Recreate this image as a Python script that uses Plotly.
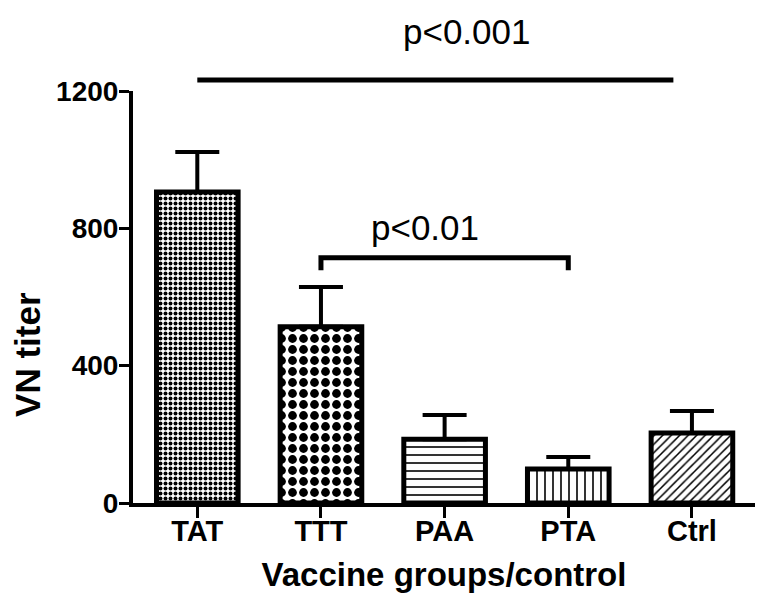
import plotly.graph_objs as go

# data
groups = ['TAT', 'TTT', 'PAA', 'PTA', 'Ctrl']
titer = [906, 513, 186, 99, 204]
titer_err = [116, 116, 70, 35, 64]
patterns = ['.', '.', '-', '|', '/']
pattern_sizes = [5, 11, 8, 8, 6]
pattern_solid = [0.5, 0.5, 0.2, 0.2, 0.25]

# significance marks: from group, to group, height, drop, label, label x, label y
sig_from = [0, 1]
sig_to = [3.85, 3]
sig_height = [1232, 714]
sig_drop = [0, 36]
sig_label = ['p<0.001', 'p<0.01']
sig_label_x = [2.18, 1.84]
sig_label_y = [1372, 801]

Y_RANGE = [0, 1200]
X_RANGE = [-0.52, 4.51]
FONT = 'Liberation Sans, Arial, sans-serif'


def to_paper(v, rng):
    return (v - rng[0]) / (rng[1] - rng[0])


bar = go.Bar(
    x=list(range(len(groups))), y=titer, width=0.66,
    marker=dict(
        color='white',
        line=dict(color='black', width=5),
        pattern=dict(shape=patterns, size=pattern_sizes, solidity=pattern_solid,
                     fgcolor='black', bgcolor='white', fillmode='replace'),
    ),
    error_y=dict(type='data', array=titer_err, arrayminus=[0] * len(titer),
                 symmetric=False, color='black', thickness=4, width=22),
)

shapes = []
annotations = []
for i in range(len(sig_label)):
    x0 = to_paper(sig_from[i], X_RANGE)
    x1 = to_paper(sig_to[i], X_RANGE)
    yt = to_paper(sig_height[i], Y_RANGE)
    yb = to_paper(sig_height[i] - sig_drop[i], Y_RANGE)
    if sig_drop[i]:
        path = 'M %f,%f L %f,%f L %f,%f L %f,%f' % (x0, yb, x0, yt, x1, yt, x1, yb)
    else:
        path = 'M %f,%f L %f,%f' % (x0, yt, x1, yt)
    shapes.append(dict(type='path', xref='paper', yref='paper', path=path,
                       line=dict(color='black', width=5)))
    annotations.append(dict(x=to_paper(sig_label_x[i], X_RANGE),
                            y=to_paper(sig_label_y[i], Y_RANGE),
                            xref='paper', yref='paper',
                            text=sig_label[i], showarrow=False,
                            font=dict(family=FONT, size=35, color='black'),
                            xanchor='center', yanchor='middle'))

# y title placed like the original (lower than plot centre)
annotations.append(dict(x=-0.170, y=0.36, xref='paper', yref='paper',
                        text='<b>VN titer</b>', textangle=-90, showarrow=False,
                        font=dict(family=FONT, size=35, color='black'),
                        xanchor='center', yanchor='middle'))

# page body has an 8px margin, so the figure is a bit smaller than the window
layout = go.Layout(
    width=757, height=602,
    margin=dict(l=125, r=10, t=83, b=107),
    paper_bgcolor='white', plot_bgcolor='white',
    showlegend=False,
    font=dict(family=FONT, color='black'),
    xaxis=dict(
        range=X_RANGE, tickvals=list(range(len(groups))), ticktext=groups,
        automargin=False,
        showline=True, linecolor='black', linewidth=4,
        ticks='outside', ticklen=11, tickwidth=3, tickcolor='black',
        ticklabelstandoff=-12,
        showgrid=False, zeroline=False,
        tickfont=dict(family=FONT, size=29, color='black', weight='bold'),
        title=dict(text='<b>Vaccine groups/control</b>', standoff=18,
                   font=dict(family=FONT, size=33, color='black')),
    ),
    yaxis=dict(
        range=Y_RANGE, tickvals=[0, 400, 800, 1200],
        automargin=False,
        showline=True, linecolor='black', linewidth=4,
        ticks='outside', ticklen=10, tickwidth=3, tickcolor='black',
        ticklabelstandoff=-5,
        showgrid=False, zeroline=False,
        tickfont=dict(family=FONT, size=28, color='black', weight='bold'),
    ),
    shapes=shapes,
    annotations=annotations,
)

fig = go.Figure(data=[bar], layout=layout)
fig.write_html('out.html')
